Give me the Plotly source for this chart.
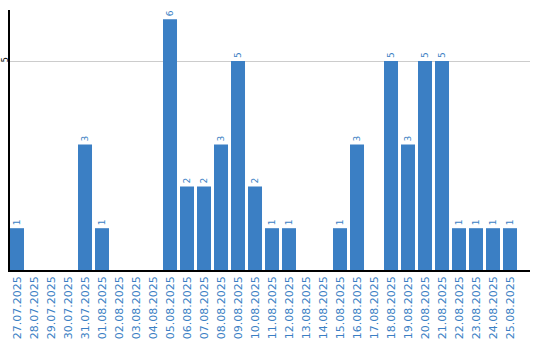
import plotly.graph_objects as go

dates = ["27.07.2025","28.07.2025","29.07.2025","30.07.2025","31.07.2025","01.08.2025",
         "02.08.2025","03.08.2025","04.08.2025","05.08.2025","06.08.2025","07.08.2025",
         "08.08.2025","09.08.2025","10.08.2025","11.08.2025","12.08.2025","13.08.2025",
         "14.08.2025","15.08.2025","16.08.2025","17.08.2025","18.08.2025","19.08.2025",
         "20.08.2025","21.08.2025","22.08.2025","23.08.2025","24.08.2025","25.08.2025"]
values = [1,0,0,0,3,1,0,0,0,6,2,2,3,5,2,1,1,0,0,1,3,0,5,3,5,5,1,1,1,1]

blue = "#3b7fc4"
labels = [str(v) if v > 0 else "" for v in values]

fig = go.Figure(go.Bar(
    x=dates, y=values, marker_color=blue, marker_line_width=0,
    text=labels, textposition="outside", textangle=-90,
    textfont=dict(color=blue, size=9, family="DejaVu Sans"),
    cliponaxis=False,
))
fig.update_layout(
    width=540, height=340,
    margin=dict(l=10, r=10, t=10, b=70),
    paper_bgcolor="white", plot_bgcolor="white",
    bargap=0.176, showlegend=False,
    font=dict(family="DejaVu Sans"),
)
fig.update_xaxes(
    type="category", range=[-0.412, 30.176],
    tickangle=-90, tickfont=dict(color=blue, size=11, family="DejaVu Sans"),
    showline=True, linecolor="black", linewidth=1.5, showgrid=False, ticks="",
    automargin=False,
)
fig.update_yaxes(
    range=[0, 6.22], tickvals=[5], tickangle=-90, tickfont=dict(color="black", size=8),
    showline=True, linecolor="black", linewidth=1.5, showgrid=True, gridcolor="#cccccc",
    zeroline=False, ticks="", automargin=False, ticklabelstandoff=-3,
)
fig.write_html("out.html")
